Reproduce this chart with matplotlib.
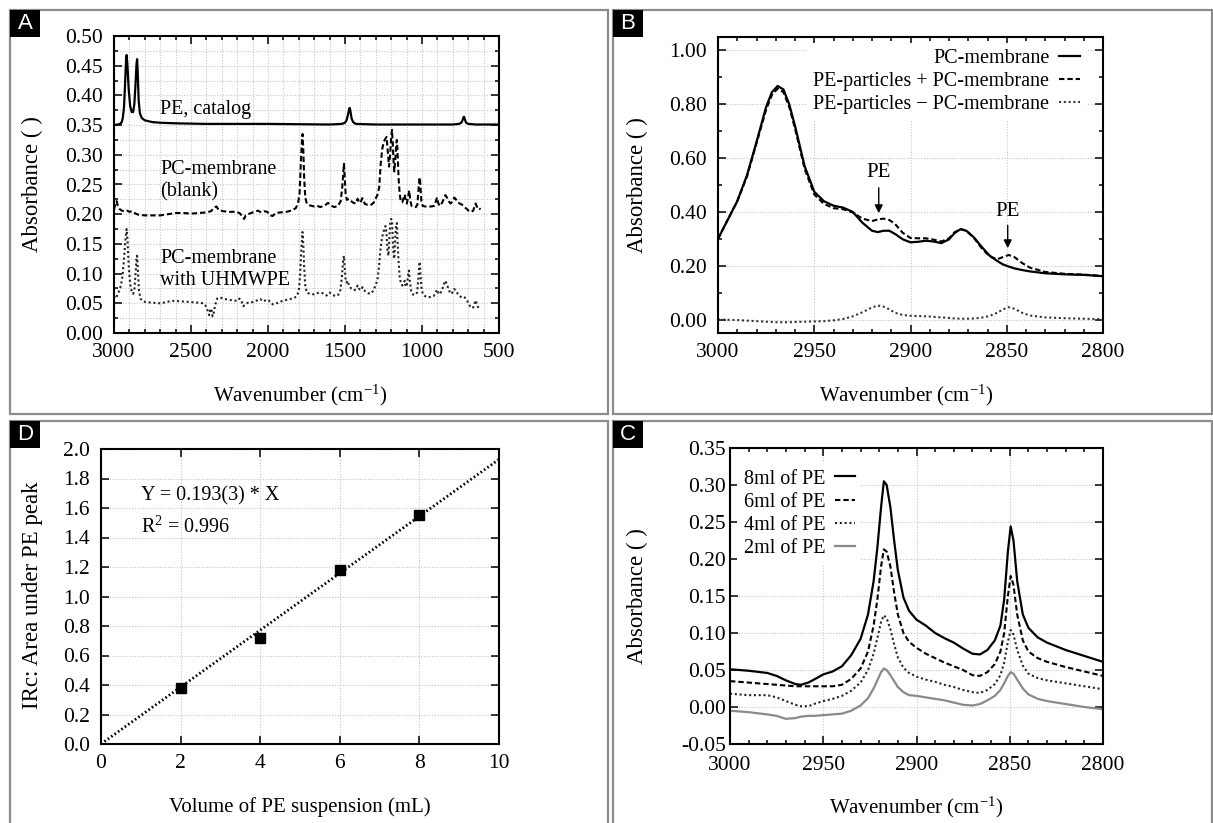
import matplotlib
matplotlib.use('Agg')
import matplotlib.pyplot as plt
from matplotlib.patches import Rectangle
from matplotlib.ticker import MultipleLocator, FormatStrFormatter

plt.rcParams['font.family'] = ['Liberation Serif', 'DejaVu Serif']
plt.rcParams['mathtext.fontset'] = 'custom'
plt.rcParams['mathtext.rm'] = 'Liberation Serif'
plt.rcParams['mathtext.it'] = 'Liberation Serif:italic'
plt.rcParams['axes.unicode_minus'] = False

# ---------------- Panel A data ----------------
A_pe_wn = [3000, 2975, 2960, 2950, 2943, 2935, 2928, 2922, 2918, 2913, 2905, 2895, 2885, 2876, 2868,
           2860, 2854, 2850, 2846, 2840, 2832, 2820, 2800, 2750, 2700, 2600, 2400, 2000, 1600, 1520,
           1500, 1490, 1480, 1473, 1469, 1464, 1457, 1447, 1430, 1300, 1000, 800, 760, 745, 737,
           731, 727, 721, 714, 700, 650, 500]
A_pe_abs = [0.350, 0.351, 0.352, 0.355, 0.362, 0.380, 0.420, 0.458, 0.468, 0.452, 0.412, 0.382, 0.372, 0.372, 0.385,
            0.420, 0.452, 0.461, 0.440, 0.392, 0.370, 0.362, 0.358, 0.355, 0.354, 0.353, 0.352, 0.352, 0.351, 0.352,
            0.354, 0.358, 0.368, 0.377, 0.379, 0.372, 0.361, 0.355, 0.352, 0.351, 0.351, 0.351, 0.352, 0.354, 0.358,
            0.363, 0.364, 0.359, 0.354, 0.352, 0.351, 0.351]

A_blank_wn = [3000, 2990, 2983, 2975, 2965, 2950, 2935, 2915, 2900, 2880, 2860, 2840, 2800, 2750, 2700, 2650,
              2600, 2550, 2500, 2450, 2400, 2370, 2350, 2335, 2320, 2290, 2250, 2210, 2185, 2165, 2155, 2145,
              2120, 2090, 2065, 2045, 2025, 2005, 1985, 1970, 1950, 1920, 1880, 1850, 1820, 1805, 1795, 1787,
              1780, 1776, 1771, 1765, 1758, 1748, 1730, 1700, 1680, 1660, 1630, 1610, 1595, 1570, 1545, 1528,
              1518, 1511, 1507, 1502, 1496, 1488, 1475, 1460, 1445, 1430, 1418, 1410, 1400, 1388, 1380, 1370,
              1355, 1335, 1315, 1300, 1290, 1278, 1268, 1258, 1248, 1238, 1230, 1222, 1214, 1207, 1200, 1195,
              1190, 1184, 1180, 1174, 1167, 1163, 1158, 1152, 1145, 1138, 1128, 1118, 1112, 1105, 1098, 1090,
              1083, 1077, 1068, 1055, 1040, 1030, 1024, 1018, 1014, 1010, 1004, 995, 980, 960, 940, 920, 910,
              902, 895, 885, 870, 858, 848, 838, 828, 815, 800, 790, 780, 768, 755, 740, 725, 710, 695, 680,
              668, 660, 652, 645, 637, 628, 620]
A_blank_abs = [0.208, 0.218, 0.222, 0.214, 0.209, 0.206, 0.205, 0.206, 0.204, 0.205, 0.201, 0.199, 0.198, 0.198, 0.198, 0.200,
               0.202, 0.202, 0.201, 0.202, 0.203, 0.205, 0.211, 0.213, 0.207, 0.205, 0.204, 0.204, 0.202, 0.196, 0.192, 0.198,
               0.201, 0.204, 0.206, 0.203, 0.205, 0.204, 0.198, 0.197, 0.202, 0.203, 0.204, 0.206, 0.210, 0.218, 0.235, 0.285,
               0.322, 0.335, 0.310, 0.260, 0.228, 0.218, 0.215, 0.213, 0.214, 0.212, 0.215, 0.219, 0.215, 0.212, 0.214, 0.222,
               0.245, 0.272, 0.285, 0.262, 0.235, 0.224, 0.226, 0.222, 0.219, 0.218, 0.226, 0.221, 0.219, 0.227, 0.222, 0.217,
               0.216, 0.215, 0.219, 0.227, 0.232, 0.245, 0.285, 0.310, 0.322, 0.327, 0.330, 0.305, 0.280, 0.300, 0.330, 0.342,
               0.320, 0.285, 0.272, 0.290, 0.318, 0.325, 0.300, 0.260, 0.235, 0.222, 0.220, 0.228, 0.233, 0.222, 0.218, 0.230,
               0.240, 0.225, 0.214, 0.212, 0.212, 0.216, 0.238, 0.258, 0.262, 0.245, 0.222, 0.214, 0.213, 0.213, 0.213, 0.214, 0.222,
               0.228, 0.219, 0.214, 0.219, 0.226, 0.232, 0.228, 0.222, 0.218, 0.222, 0.228, 0.225, 0.220, 0.218, 0.216, 0.212, 0.209, 0.205, 0.204,
               0.206, 0.212, 0.218, 0.214, 0.209, 0.210, 0.208]

A_uhmw_wn = [3000, 2993, 2985, 2975, 2965, 2955, 2945, 2935, 2925, 2918, 2912, 2905, 2895, 2885, 2875, 2867,
             2860, 2854, 2850, 2845, 2838, 2828, 2815, 2795, 2750, 2700, 2660, 2630, 2600, 2550, 2500, 2450,
             2420, 2405, 2392, 2382, 2376, 2368, 2360, 2352, 2342, 2330, 2315, 2290, 2260, 2230, 2200, 2185,
             2170, 2160, 2150, 2130, 2100, 2070, 2050, 2030, 2010, 1995, 1980, 1965, 1945, 1920, 1890, 1860,
             1830, 1812, 1800, 1792, 1785, 1779, 1776, 1771, 1765, 1758, 1748, 1730, 1700, 1670, 1645, 1620,
             1600, 1580, 1560, 1545, 1530, 1520, 1512, 1507, 1502, 1496, 1490, 1482, 1474, 1460, 1445, 1430,
             1418, 1410, 1398, 1386, 1378, 1365, 1350, 1335, 1320, 1305, 1295, 1288, 1280, 1270, 1260, 1250,
             1242, 1236, 1230, 1224, 1218, 1212, 1206, 1200, 1195, 1190, 1184, 1180, 1174, 1168, 1163, 1158,
             1152, 1145, 1138, 1128, 1118, 1112, 1106, 1098, 1090, 1085, 1078, 1070, 1060, 1045, 1032, 1024,
             1018, 1014, 1010, 1003, 995, 980, 960, 940, 925, 912, 902, 895, 885, 870, 858, 848, 838, 828,
             815, 803, 792, 780, 768, 755, 742, 728, 715, 702, 690, 678, 668, 660, 652, 645, 637, 630, 620]
A_uhmw_abs = [0.062, 0.058, 0.060, 0.066, 0.072, 0.080, 0.095, 0.125, 0.160, 0.175, 0.155, 0.115, 0.082, 0.070, 0.066, 0.075,
              0.100, 0.125, 0.130, 0.105, 0.072, 0.058, 0.054, 0.052, 0.051, 0.050, 0.052, 0.054, 0.054, 0.053, 0.052, 0.051,
              0.050, 0.046, 0.038, 0.030, 0.038, 0.041, 0.028, 0.035, 0.048, 0.058, 0.060, 0.058, 0.056, 0.055, 0.054, 0.058,
              0.052, 0.045, 0.048, 0.051, 0.052, 0.055, 0.057, 0.053, 0.056, 0.055, 0.050, 0.048, 0.050, 0.053, 0.055, 0.057,
              0.059, 0.062, 0.072, 0.095, 0.135, 0.160, 0.170, 0.150, 0.110, 0.080, 0.068, 0.066, 0.065, 0.068, 0.067, 0.063,
              0.068, 0.064, 0.062, 0.064, 0.072, 0.095, 0.122, 0.130, 0.110, 0.090, 0.085, 0.088, 0.080, 0.075, 0.072, 0.073,
              0.080, 0.075, 0.072, 0.077, 0.073, 0.069, 0.067, 0.066, 0.070, 0.078, 0.085, 0.092, 0.110, 0.140, 0.160, 0.170,
              0.178, 0.180, 0.165, 0.140, 0.130, 0.160, 0.185, 0.192, 0.190, 0.160, 0.130, 0.125, 0.160, 0.182, 0.185, 0.150,
              0.120, 0.095, 0.085, 0.080, 0.085, 0.088, 0.078, 0.080, 0.098, 0.105, 0.085, 0.070, 0.065, 0.064, 0.068, 0.090,
              0.115, 0.120, 0.100, 0.075, 0.066, 0.062, 0.060, 0.061, 0.062, 0.068, 0.073, 0.068, 0.065, 0.072, 0.082, 0.088, 0.082, 0.074,
              0.066, 0.068, 0.074, 0.072, 0.066, 0.062, 0.060, 0.061, 0.058, 0.052, 0.046, 0.042, 0.043, 0.048, 0.055, 0.050, 0.044, 0.042, 0.045]

# ---------------- Panel B data ----------------
B_wn = [3000, 2995, 2990, 2985, 2980, 2975, 2972, 2969, 2966, 2963, 2960, 2955, 2950, 2945, 2940, 2935,
        2930, 2925, 2920, 2917, 2914, 2911, 2908, 2904, 2900, 2896, 2892, 2888, 2884, 2880, 2877, 2874,
        2871, 2867, 2863, 2859, 2855, 2852, 2849, 2846, 2842, 2838, 2830, 2820, 2810, 2800]
B_pc = [0.300, 0.370, 0.440, 0.535, 0.660, 0.790, 0.845, 0.868, 0.855, 0.800, 0.720, 0.570, 0.475, 0.440, 0.423, 0.416,
        0.400, 0.360, 0.330, 0.325, 0.330, 0.330, 0.318, 0.298, 0.287, 0.289, 0.293, 0.290, 0.284, 0.298, 0.322, 0.336,
        0.330, 0.305, 0.270, 0.238, 0.218, 0.205, 0.197, 0.190, 0.184, 0.179, 0.172, 0.168, 0.166, 0.161]
B_pe_plus = [0.300, 0.370, 0.440, 0.530, 0.655, 0.780, 0.835, 0.858, 0.845, 0.790, 0.710, 0.560, 0.465, 0.430, 0.414, 0.410,
             0.398, 0.375, 0.366, 0.372, 0.375, 0.370, 0.355, 0.322, 0.303, 0.302, 0.302, 0.297, 0.290, 0.302, 0.325, 0.336,
             0.330, 0.303, 0.265, 0.235, 0.224, 0.232, 0.240, 0.232, 0.210, 0.193, 0.177, 0.170, 0.167, 0.162]
B_pe_minus = [0.000, -0.001, -0.002, -0.004, -0.006, -0.008, -0.009, -0.010, -0.010, -0.010, -0.009, -0.008, -0.007, -0.006, -0.003, 0.002,
              0.012, 0.027, 0.045, 0.052, 0.048, 0.038, 0.025, 0.017, 0.014, 0.013, 0.012, 0.010, 0.008, 0.006, 0.004, 0.003,
              0.003, 0.004, 0.007, 0.013, 0.025, 0.038, 0.046, 0.040, 0.025, 0.015, 0.008, 0.005, 0.003, 0.001]
B_labels = ['PC-membrane', 'PE-particles + PC-membrane', 'PE-particles \u2212 PC-membrane']

# ---------------- Panel C data ----------------
C_wn = [3000, 2990, 2980, 2975, 2970, 2965, 2962, 2958, 2955, 2950, 2945, 2940, 2935, 2930, 2926, 2923,
        2921, 2919, 2917.5, 2916, 2914, 2912, 2910, 2907, 2904, 2900, 2895, 2890, 2885, 2880, 2875, 2870,
        2866, 2862, 2858, 2855, 2853, 2851, 2849.5, 2848, 2846, 2843, 2840, 2835, 2830, 2820, 2810, 2800]
C_8ml = [0.051, 0.049, 0.046, 0.042, 0.036, 0.031, 0.030, 0.033, 0.037, 0.044, 0.048, 0.055, 0.070, 0.092, 0.125, 0.170,
         0.215, 0.270, 0.305, 0.300, 0.270, 0.225, 0.185, 0.148, 0.130, 0.118, 0.110, 0.100, 0.093, 0.087, 0.079, 0.072,
         0.071, 0.077, 0.090, 0.110, 0.145, 0.210, 0.244, 0.225, 0.170, 0.125, 0.107, 0.094, 0.087, 0.077, 0.069, 0.061]
C_6ml = [0.035, 0.033, 0.031, 0.030, 0.029, 0.028, 0.028, 0.028, 0.028, 0.028, 0.028, 0.030, 0.038, 0.052, 0.075, 0.110,
         0.145, 0.190, 0.213, 0.210, 0.190, 0.155, 0.125, 0.100, 0.088, 0.080, 0.072, 0.066, 0.060, 0.055, 0.050, 0.043,
         0.042, 0.047, 0.058, 0.075, 0.100, 0.150, 0.177, 0.165, 0.125, 0.090, 0.075, 0.066, 0.061, 0.054, 0.048, 0.042]
C_4ml = [0.018, 0.016, 0.016, 0.013, 0.008, 0.003, 0.001, 0.001, 0.004, 0.008, 0.011, 0.015, 0.022, 0.033, 0.050, 0.072,
         0.093, 0.115, 0.124, 0.120, 0.105, 0.085, 0.067, 0.053, 0.046, 0.041, 0.037, 0.034, 0.030, 0.027, 0.023, 0.020,
         0.019, 0.023, 0.031, 0.043, 0.060, 0.088, 0.104, 0.098, 0.077, 0.056, 0.045, 0.039, 0.036, 0.032, 0.028, 0.024]
C_2ml = [-0.005, -0.007, -0.010, -0.012, -0.016, -0.015, -0.013, -0.012, -0.012, -0.011, -0.010, -0.009, -0.005, 0.002, 0.012, 0.025,
         0.036, 0.047, 0.052, 0.050, 0.043, 0.035, 0.027, 0.020, 0.016, 0.015, 0.013, 0.011, 0.009, 0.006, 0.003, 0.002,
         0.004, 0.009, 0.015, 0.023, 0.032, 0.042, 0.047, 0.045, 0.037, 0.025, 0.017, 0.011, 0.008, 0.004, 0.000, -0.003]
C_labels = ['8ml of PE', '6ml of PE', '4ml of PE', '2ml of PE']

# ---------------- Panel D data ----------------
D_volume = [2, 4, 6, 8]
D_area = [0.38, 0.72, 1.18, 1.55]
D_fit_x = [0, 10]
D_fit_y = [0.0, 1.93]

# ---------------- styles ----------------
DASH = (0, (2.6, 1.4))
DOT = (0, (1.0, 1.3))
TICK_FS = 15.5
XLAB_FS = 15
YLAB_FS = 16.5
TXT_FS = 14.5
LEG_FS = 14.5
GRID_KW = dict(color='#c4c4c4', linestyle=(0, (1, 1.5)), linewidth=0.8)

W, H = 1213, 823
fig = plt.figure(figsize=(W / 100, H / 100), dpi=100)


def px_axes(l, t, r, b):
    return fig.add_axes([l / W, 1 - b / H, (r - l) / W, (b - t) / H])


def style(ax, ypad, xpad=7):
    for s in ax.spines.values():
        s.set_linewidth(1.5)
    ax.tick_params(which='both', direction='in', top=True, right=True, width=1.1,
                   labelsize=TICK_FS)
    ax.tick_params(axis='y', pad=ypad)
    ax.tick_params(axis='x', pad=xpad)
    ax.tick_params(which='major', length=6)
    ax.tick_params(which='minor', length=3)
    ax.set_axisbelow(True)


wn_label = r'Wavenumber (cm$^{\mathregular{-1}}$)'

# ---- Panel A ----
axA = px_axes(114, 36, 499, 333)
axA.plot(A_pe_wn, A_pe_abs, color='black', lw=1.6)
axA.plot(A_blank_wn, A_blank_abs, color='black', lw=1.5, linestyle=DASH)
axA.plot(A_uhmw_wn, A_uhmw_abs, color='#222222', lw=1.5, linestyle=DOT)
axA.set_xlim(3000, 500)
axA.set_ylim(0, 0.5)
axA.xaxis.set_major_locator(MultipleLocator(500))
axA.xaxis.set_minor_locator(MultipleLocator(100))
axA.yaxis.set_major_locator(MultipleLocator(0.05))
axA.yaxis.set_minor_locator(MultipleLocator(0.025))
axA.yaxis.set_major_formatter(FormatStrFormatter('%.2f'))
axA.grid(which='both', **GRID_KW)
style(axA, 8)
for txt, yv in [('PE, catalog', 0.376), ('PC-membrane', 0.276), ('(blank)', 0.237),
                ('PC-membrane', 0.126), ('with UHMWPE', 0.088)]:
    axA.text(2700, yv, txt, fontsize=TXT_FS, va='center', ha='left')
axA.set_xlabel(wn_label, fontsize=XLAB_FS, va='center')
axA.set_ylabel('Absorbance ( )', fontsize=YLAB_FS, va='center')
axA.xaxis.set_label_coords(0.483, -0.21)
axA.yaxis.set_label_coords(-0.213, 0.5)

# ---- Panel B ----
axB = px_axes(718, 37, 1103, 333)
lb1, = axB.plot(B_wn, B_pc, color='black', lw=1.6)
lb2, = axB.plot(B_wn, B_pe_plus, color='black', lw=1.5, linestyle=DASH)
lb3, = axB.plot(B_wn, B_pe_minus, color='#333333', lw=1.5, linestyle=DOT)
axB.set_xlim(3000, 2800)
axB.set_ylim(-0.05, 1.05)
axB.xaxis.set_major_locator(MultipleLocator(50))
axB.xaxis.set_minor_locator(MultipleLocator(10))
axB.yaxis.set_major_locator(MultipleLocator(0.2))
axB.yaxis.set_minor_locator(MultipleLocator(0.1))
axB.yaxis.set_major_formatter(FormatStrFormatter('%.2f'))
axB.grid(which='major', **GRID_KW)
style(axB, 8)
axB.legend([lb1, lb2, lb3], B_labels, loc='upper right', markerfirst=False,
           fontsize=LEG_FS, handlelength=1.0, handletextpad=0.5, labelspacing=0.2,
           frameon=True, facecolor='white', edgecolor='none', framealpha=1,
           borderaxespad=0.0, borderpad=0.3, bbox_to_anchor=(0.955, 0.98))
axB.annotate('', xy=(2916.5, 0.385), xytext=(2916.5, 0.50),
             arrowprops=dict(arrowstyle='-|>', color='black', lw=1.0, mutation_scale=12))
axB.text(2916.5, 0.545, 'PE', fontsize=15, ha='center', va='center')
axB.annotate('', xy=(2849.5, 0.255), xytext=(2849.5, 0.36),
             arrowprops=dict(arrowstyle='-|>', color='black', lw=1.0, mutation_scale=12))
axB.text(2849.5, 0.40, 'PE', fontsize=15, ha='center', va='center')
axB.set_xlabel(wn_label, fontsize=XLAB_FS, va='center')
axB.set_ylabel('Absorbance ( )', fontsize=YLAB_FS, va='center')
axB.xaxis.set_label_coords(0.4875, -0.21)
axB.yaxis.set_label_coords(-0.209, 0.5)

# ---- Panel D ----
axD = px_axes(101, 449, 499, 744)
axD.plot(D_fit_x, D_fit_y, color='black', lw=2.0, linestyle=(0, (0.6, 0.9)))
axD.plot(D_volume, D_area, linestyle='none', marker='s', color='black', markersize=7)
axD.set_xlim(0, 10)
axD.set_ylim(0, 2.0)
axD.xaxis.set_major_locator(MultipleLocator(2))
axD.yaxis.set_major_locator(MultipleLocator(0.2))
axD.yaxis.set_major_formatter(FormatStrFormatter('%.1f'))
axD.grid(which='major', **GRID_KW)
style(axD, 8)
axD.text(1.0, 1.68, 'Y = 0.193(3) * X', fontsize=TXT_FS, va='center', ha='left')
axD.text(1.0, 1.47, r'R$^{\mathregular{2}}$ = 0.996', fontsize=TXT_FS, va='center', ha='left')
axD.set_xlabel('Volume of PE suspension (mL)', fontsize=XLAB_FS, va='center')
axD.set_ylabel('IRc: Area under PE peak', fontsize=YLAB_FS, va='center')
axD.xaxis.set_label_coords(0.50, -0.213)
axD.yaxis.set_label_coords(-0.173, 0.505)

# ---- Panel C ----
axC = px_axes(730, 448, 1103, 744)
lc1, = axC.plot(C_wn, C_8ml, color='black', lw=1.6)
lc2, = axC.plot(C_wn, C_6ml, color='black', lw=1.5, linestyle=DASH)
lc3, = axC.plot(C_wn, C_4ml, color='#222222', lw=1.5, linestyle=DOT)
lc4, = axC.plot(C_wn, C_2ml, color='#8a8a8a', lw=1.6)
axC.set_xlim(3000, 2800)
axC.set_ylim(-0.05, 0.35)
axC.xaxis.set_major_locator(MultipleLocator(50))
axC.xaxis.set_minor_locator(MultipleLocator(10))
axC.yaxis.set_major_locator(MultipleLocator(0.05))
axC.yaxis.set_major_formatter(FormatStrFormatter('%.2f'))
axC.grid(which='major', **GRID_KW)
style(axC, 3, xpad=9)
axC.legend([lc1, lc2, lc3, lc4], C_labels, loc='upper left', markerfirst=False,
           fontsize=LEG_FS, handlelength=1.0, handletextpad=0.5, labelspacing=0.2,
           frameon=True, facecolor='white', edgecolor='none', framealpha=1,
           borderaxespad=0.0, borderpad=0.3, bbox_to_anchor=(0.02, 0.948))
axC.set_xlabel(wn_label, fontsize=XLAB_FS, va='center')
axC.set_ylabel('Absorbance ( )', fontsize=YLAB_FS, va='center')
axC.xaxis.set_label_coords(0.499, -0.213)
axC.yaxis.set_label_coords(-0.249, 0.5)

# ---- panel frames and letter boxes ----
frames = [(10, 10, 608, 414), (613, 10, 1212, 414), (10, 421, 608, 835), (613, 421, 1212, 835)]
letters = ['A', 'B', 'D', 'C']
for (l, t, r, b), letter in zip(frames, letters):
    fig.patches.append(Rectangle((l / W, 1 - b / H), (r - l) / W, (b - t) / H,
                                 transform=fig.transFigure, fill=False,
                                 edgecolor='#8c8c8c', linewidth=1.6, zorder=0))
    fig.patches.append(Rectangle((l / W, 1 - (t + 27) / H), 30 / W, 27 / H,
                                 transform=fig.transFigure, facecolor='black',
                                 edgecolor='none', zorder=1))
    fig.text((l + 15) / W, 1 - (t + 13.5) / H, letter, color='white', fontsize=16,
             family=['Liberation Sans', 'DejaVu Sans'], ha='center', va='center')

fig.savefig('out.png', dpi=100)
